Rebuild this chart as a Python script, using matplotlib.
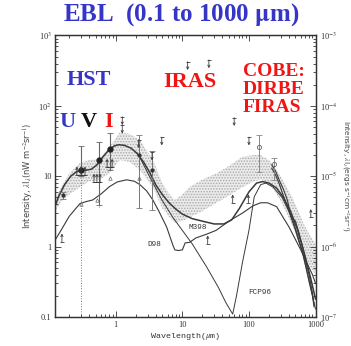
import matplotlib.pyplot as plt
from matplotlib.ticker import FixedLocator, LogLocator, NullFormatter

# shaded EBL band: wavelength (um) and upper / lower limits (nW m^-2 sr^-1)
band_lam = [0.12, 0.145, 0.2, 0.29, 0.4, 0.57, 0.8, 1.15, 1.6, 2.3, 3.6, 5.0,
            6.4, 7.7, 10, 12.8, 20, 32.6, 50, 80, 120, 150, 200, 300, 450,
            650, 800, 1000]
band_hi = [4.5, 6.5, 11, 15.5, 17, 17.5, 26, 42, 40, 33, 17, 8, 5.5, 4.6,
           5.5, 7, 9, 11, 14, 19, 20, 20, 17, 10, 5, 2.2, 1.5, 1.1]
band_lo = [3.0, 4.2, 5.5, 7, 8.5, 8.9, 11, 17, 16, 12.3, 7, 3.5, 2.6, 2.2,
           2.3, 2.6, 3.2, 4.2, 5.3, 7, 8.5, 9, 8, 4.5, 2, 0.8, 0.55, 0.4]

# model curve through the band (labelled M398)
m398_lam = [0.12, 0.14, 0.17, 0.21, 0.26, 0.30, 0.36, 0.43, 0.52, 0.63, 0.78,
            0.95, 1.1, 1.35, 1.7, 2.1, 2.6, 3.2, 4.0, 5.0, 6.3, 8.0, 10, 14,
            20, 30, 42, 55, 72, 100, 130, 160, 200, 260, 330, 420, 530, 680,
            850, 1000]
m398_I = [3.6, 5.3, 7.6, 10, 11.7, 12.2, 12.2, 12.6, 14.5, 18.5, 23.5, 27,
          28, 27.5, 25, 21, 16, 11.5, 7.5, 5.5, 4.2, 3.4, 2.9, 2.5, 2.3, 2.1,
          2.1, 2.4, 3.5, 6.0, 8.0, 8.4, 8.0, 6.8, 5.0, 3.2, 1.8, 0.8, 0.35,
          0.18]

# lower model curve (D98)
d98_lam = [0.12, 0.15, 0.2, 0.29, 0.37, 0.45, 0.6, 0.8, 1.05, 1.45, 1.9, 2.3,
           2.9, 3.6, 4.5, 5.8, 7.2, 7.7, 8.7, 10, 11, 12.8, 16, 23, 32, 50,
           80, 115, 150, 190, 260, 400, 600, 900, 1000]
d98_I = [1.2, 1.7, 2.7, 4.1, 4.4, 4.6, 5.6, 7.1, 8.3, 8.9, 8.5, 7.6, 6.2,
         4.6, 3.1, 1.9, 1.05, 0.9, 0.88, 0.9, 1.13, 1.15, 1.33, 1.5, 1.7, 2.3,
         3.0, 3.8, 4.2, 4.2, 3.7, 1.9, 0.9, 0.4, 0.3]

# FIRAS fit (FCP96)
fcp_lam = [2.2, 3.2, 5.0, 7.2, 10, 14, 23, 35, 45, 57, 65, 80, 100, 120,
           150, 180, 230, 315, 450, 650, 900, 1000]
fcp_I = [20, 10, 4.5, 2.6, 1.7, 1.1, 0.52, 0.26, 0.16, 0.11, 0.2, 0.6, 1.7,
         5.1, 7.6, 8.0, 7.0, 5.0, 2.5, 0.8, 0.2, 0.13]

# DIRBE / FIRAS spectra at the long wavelength end
firas_lam = [220, 250, 290, 330, 380, 430, 500, 560, 640, 720, 800, 900, 950]
firas_a = [14.5, 12, 8.5, 6.5, 4.5, 2.6, 2.3, 1.6, 1.0, 0.6, 0.4, 0.22, 0.15]
firas_b = [13, 10.5, 7.5, 5.2, 3.6, 2.6, 1.7, 1.2, 0.8, 0.5, 0.32, 0.2, 0.14]

# HST detections (U, V, I)
hst_lam = [0.30, 0.55, 0.81]
hst_I = [12.3, 17, 24]
hst_lo = [10, 3.9, 12.3]
hst_hi = [27, 31, 41]

# other detections
det_lam = [0.16, 2.2, 3.5]
det_I = [5.4, 20, 12.3]
det_lo = [4.8, 3.5, 3.3]
det_hi = [6.0, 39, 23]

# DIRBE far-IR detections
dirbe_lam = [140, 240]
dirbe_I = [26, 15]
dirbe_lo = [11.6, 8.9]
dirbe_hi = [39, 18]

# small open markers along the lower curve
tri_lam = [0.30, 0.52, 0.81, 2.2, 3.5]
tri_I = [4.1, 4.6, 9.4, 9.5, 9.0]

# upper limits
ul_lam = [1.25, 1.25, 2.2, 3.5, 4.9, 12, 25, 60, 100]
ul_I = [70, 53, 33, 22, 36, 424, 450, 68, 36]

# lower limits
ll_lam = [0.155, 0.26, 0.30, 0.345, 0.47, 0.52, 0.58, 0.74, 0.88, 24, 57,
          98, 850]
ll_I = [1.17, 10.5, 10.5, 10.5, 8.3, 8.3, 8.3, 13.5, 13.5, 1.1, 4.2, 4.2,
        2.6]

# galaxy count groups joined by a bracket
bracket_lo = [0.26, 0.47, 0.74]
bracket_hi = [0.345, 0.58, 0.88]
bracket_I = [10.5, 8.3, 13.5]

BLUE = "#3535c8"
RED = "#f01414"
INK = "#3a3a3a"


def limit_arrow(ax, x, y, down):
    ax.plot([x], [y], marker="_", color=INK, ms=3, mew=0.6)
    dy = -6 if down else 6
    ax.annotate("", xy=(x, y), xytext=(0, dy), textcoords="offset points",
                arrowprops=dict(arrowstyle="<-", color=INK, lw=0.6,
                                shrinkA=0, shrinkB=0, mutation_scale=4))


def main():
    plt.rcParams["mathtext.fontset"] = "stix"
    plt.rcParams["hatch.linewidth"] = 0.7

    fig = plt.figure(figsize=(3.51, 3.46), dpi=100)
    ax = fig.add_axes([0.1553, 0.0838, 0.7436, 0.8136])
    ax.set_xscale("log")
    ax.set_yscale("log")
    ax.set_xlim(0.12, 1000)
    ax.set_ylim(0.1, 1000)

    ax.fill_between(band_lam, band_lo, band_hi, facecolor="#ebebeb",
                    edgecolor="#aaaaaa", hatch="......", linewidth=0)

    ax.plot(m398_lam, m398_I, color=INK, lw=1.1)
    ax.plot(d98_lam, d98_I, color=INK, lw=0.8)
    ax.plot(fcp_lam, fcp_I, color=INK, lw=0.7)
    ax.plot(firas_lam, firas_a, color=INK, lw=0.8)
    ax.plot(firas_lam, firas_b, color=INK, lw=0.8)

    # dotted guide below the U point
    ax.plot([hst_lam[0], hst_lam[0]], [0.1, hst_lo[0]], color="#777777",
            lw=0.7, ls=":")
    ax.plot([hst_lam[1], hst_lam[1]], [3.6, 8.3], color="#777777",
            lw=0.7, ls=":")

    ax.errorbar(hst_lam, hst_I,
                yerr=[[v - l for v, l in zip(hst_I, hst_lo)],
                      [h - v for v, h in zip(hst_I, hst_hi)]],
                fmt="o", color="#222222", ecolor="#666666", ms=3.5,
                elinewidth=0.8, capsize=2.5, capthick=0.6)
    ax.errorbar(det_lam, det_I,
                yerr=[[v - l for v, l in zip(det_I, det_lo)],
                      [h - v for v, h in zip(det_I, det_hi)]],
                fmt="o", color="#333333", ecolor="#777777", ms=2,
                elinewidth=0.7, capsize=2, capthick=0.6)
    ax.errorbar(dirbe_lam, dirbe_I,
                yerr=[[v - l for v, l in zip(dirbe_I, dirbe_lo)],
                      [h - v for v, h in zip(dirbe_I, dirbe_hi)]],
                fmt="o", mfc="none", mec="#666666", ecolor="#888888", ms=3,
                mew=0.6, elinewidth=0.7, capsize=2, capthick=0.6)
    ax.plot(tri_lam, tri_I, ls="none", marker="^", mfc="none", mec="#666666",
            ms=2.5, mew=0.5)

    for x, y in zip(ul_lam, ul_I):
        limit_arrow(ax, x, y, down=True)
    for x, y in zip(ll_lam, ll_I):
        limit_arrow(ax, x, y, down=False)
    for lo, hi, y in zip(bracket_lo, bracket_hi, bracket_I):
        ax.plot([lo, hi], [y, y], color=INK, lw=0.6)

    mono = dict(family="Liberation Mono", fontsize=5.5, color="#333333")
    ax.text(17, 1.85, "M398", ha="center", va="center", **mono)
    ax.text(3.85, 1.06, "D98", ha="center", va="center", **mono)
    ax.text(144, 0.22, "FCP96", ha="center", va="center", **mono)

    # axes styling
    ax.xaxis.set_major_locator(FixedLocator([1, 10, 100, 1000]))
    ax.set_xticklabels(["1", "10", "100", "1000"])
    ax.xaxis.set_minor_locator(LogLocator(base=10, subs=range(2, 10)))
    ax.xaxis.set_minor_formatter(NullFormatter())
    ax.yaxis.set_major_locator(FixedLocator([0.1, 1, 10, 100, 1000]))
    ax.set_yticklabels(["0.1", "1", "10", "10$^2$", "10$^3$"])
    ax.yaxis.set_minor_locator(LogLocator(base=10, subs=range(2, 10)))
    ax.yaxis.set_minor_formatter(NullFormatter())
    ax.tick_params(which="both", direction="in", top=True, right=False,
                   width=0.6, labelsize=6, colors="#333333")
    ax.tick_params(axis="y", pad=2)
    ax.tick_params(axis="x", pad=3)
    ax.tick_params(which="major", length=4)
    ax.tick_params(which="minor", length=2)
    for label in ax.get_xticklabels() + ax.get_yticklabels():
        label.set_family("Liberation Serif")
    for spine in ax.spines.values():
        spine.set_linewidth(0.9)
        spine.set_color("#333333")

    ax2 = ax.twinx()
    ax2.set_yscale("log")
    ax2.set_ylim(1e-7, 1e-3)
    ax2.yaxis.set_major_locator(FixedLocator([1e-7, 1e-6, 1e-5, 1e-4, 1e-3]))
    ax2.set_yticklabels(["10$^{-7}$", "10$^{-6}$", "10$^{-5}$", "10$^{-4}$",
                         "10$^{-3}$"])
    ax2.yaxis.set_minor_locator(LogLocator(base=10, subs=range(2, 10)))
    ax2.yaxis.set_minor_formatter(NullFormatter())
    ax2.tick_params(which="both", direction="in", width=0.6, labelsize=6,
                    pad=3, colors="#333333")
    ax2.tick_params(which="major", length=4)
    ax2.tick_params(which="minor", length=2)
    for label in ax2.get_yticklabels():
        label.set_family("Liberation Serif")
    for spine in ax2.spines.values():
        spine.set_linewidth(0.9)
        spine.set_color("#333333")

    ax.set_xlabel("Wavelength($\\mu$m)", family="Liberation Mono",
                  fontsize=6, color="#333333", labelpad=1)
    ax.set_ylabel("Intensity, $\\lambda$I$_\\lambda$(nW m$^{-2}$sr$^{-1}$)",
                  fontsize=6, color="#444444", labelpad=2)
    ax2.set_ylabel("Intensity, $\\lambda$I$_\\lambda$(ergs s$^{-1}$"
                   "cm$^{-2}$sr$^{-1}$)", fontsize=5.3, color="#444444",
                   rotation=270, va="center")
    ax2.yaxis.set_label_coords(1.115, 0.5)

    # headline and instrument labels
    serif = "Liberation Serif"
    fig.text(0.516, 0.957, "EBL  (0.1 to 1000 $\\mathbf{\\mu}$m)",
             ha="center", va="center", family=serif, fontweight="bold",
             fontsize=18, color=BLUE)
    fig.text(0.254, 0.769, "HST", ha="center", va="center", family=serif,
             fontweight="bold", fontsize=16, color=BLUE)
    fig.text(0.191, 0.647, "U", ha="center", va="center", family=serif,
             fontweight="bold", fontsize=16, color=BLUE)
    fig.text(0.254, 0.647, "V", ha="center", va="center", family=serif,
             fontweight="bold", fontsize=16, color="#111111")
    fig.text(0.308, 0.647, "I", ha="center", va="center", family=serif,
             fontweight="bold", fontsize=16, color=RED)
    fig.text(0.541, 0.763, "IRAS", ha="center", va="center", family=serif,
             fontweight="bold", fontsize=16, color=RED)
    fig.text(0.692, 0.741, "COBE:\nDIRBE\nFIRAS", ha="left", va="center",
             family=serif, fontweight="bold", fontsize=14, color=RED,
             linespacing=1.1)

    fig.savefig("out.png", dpi=100)


if __name__ == "__main__":
    main()
